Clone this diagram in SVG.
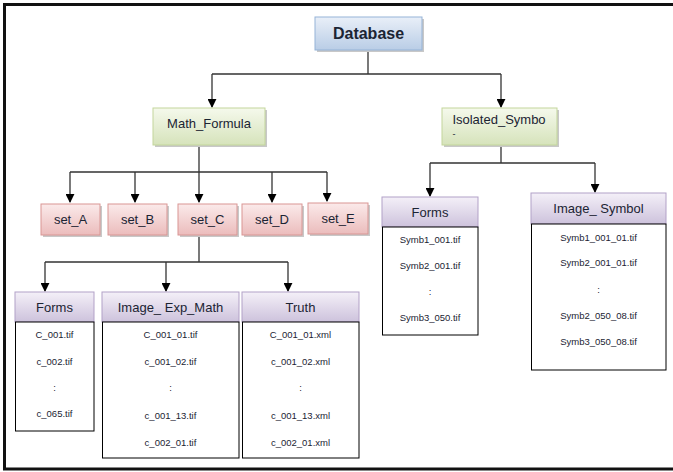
<svg xmlns="http://www.w3.org/2000/svg" width="673" height="472" viewBox="0 0 673 472">
<defs>
<linearGradient id="gBlue" x1="0" y1="0" x2="0" y2="1"><stop offset="0" stop-color="#e9eff8"/><stop offset="1" stop-color="#b9cde6"/></linearGradient>
<linearGradient id="gGreen" x1="0" y1="0" x2="0" y2="1"><stop offset="0" stop-color="#f5f9ec"/><stop offset="1" stop-color="#d6e3bb"/></linearGradient>
<linearGradient id="gPink" x1="0" y1="0" x2="0" y2="1"><stop offset="0" stop-color="#fbeaea"/><stop offset="1" stop-color="#ebbcbc"/></linearGradient>
<linearGradient id="gPurple" x1="0" y1="0" x2="0" y2="1"><stop offset="0" stop-color="#f4f0f8"/><stop offset="1" stop-color="#cdc2dc"/></linearGradient>
<marker id="arr" viewBox="0 0 10 10" refX="9" refY="5" markerWidth="9" markerHeight="9" markerUnits="userSpaceOnUse" orient="auto"><path d="M0,0 L10,5 L0,10 z" fill="#000"/></marker>
</defs>
<style>
.sh{fill:#c8c8c8;}
.blue{fill:url(#gBlue);stroke:#95b3d7;stroke-width:1;}
.green{fill:url(#gGreen);stroke:#c3d69b;stroke-width:1;}
.pink{fill:url(#gPink);stroke:#d99694;stroke-width:1;}
.purple{fill:url(#gPurple);stroke:#b2a1c7;stroke-width:1;}
.list{fill:#fff;stroke:#000;stroke-width:1;}
.t{font-family:"Liberation Sans",Arial,sans-serif;font-size:13px;fill:#1b2433;text-anchor:middle;}
.s{font-family:"Liberation Sans",Arial,sans-serif;font-size:9.5px;fill:#1b2433;text-anchor:middle;}
.conn{fill:none;stroke:#333;stroke-width:1.3;}
</style>
<rect x="0" y="0" width="673" height="472" fill="#fff"/>
<g id="frame" fill="none" stroke="#111" stroke-width="3">
<path d="M673,4.5 L4.5,4.5 L4.5,469 L673,469"/>
</g>

<g id="connectors">
<path class="conn" d="M368,50 V74 M212,74 H501"/>
<path class="conn" d="M212,74 V107" marker-end="url(#arr)"/>
<path class="conn" d="M501,74 V107" marker-end="url(#arr)"/>
<path class="conn" d="M199,146 V172 M70,172 H327"/>
<path class="conn" d="M70,172 V202" marker-end="url(#arr)"/>
<path class="conn" d="M135,172 V202" marker-end="url(#arr)"/>
<path class="conn" d="M199,172 V202" marker-end="url(#arr)"/>
<path class="conn" d="M272,172 V202" marker-end="url(#arr)"/>
<path class="conn" d="M327,172 V201" marker-end="url(#arr)"/>
<path class="conn" d="M199,236 V262 M45,262 H288"/>
<path class="conn" d="M45,262 V291" marker-end="url(#arr)"/>
<path class="conn" d="M166,262 V291" marker-end="url(#arr)"/>
<path class="conn" d="M288,262 V291" marker-end="url(#arr)"/>
<path class="conn" d="M501,146 V163 M430,163 H595"/>
<path class="conn" d="M430,163 V196" marker-end="url(#arr)"/>
<path class="conn" d="M595,163 V192" marker-end="url(#arr)"/>
</g>

<g id="database">
<rect class="sh" x="317" y="19" width="107" height="33"/>
<rect class="blue" x="315" y="17" width="107" height="33"/>
<text class="t" x="368.5" y="39" style="font-weight:bold;font-size:16px;">Database</text>
</g>
<g id="math_formula">
<rect class="sh" x="155" y="110" width="112" height="37"/>
<rect class="green" x="153" y="108" width="112" height="37"/>
<text class="t" x="209" y="128">Math_Formula</text>
</g>
<g id="isolated_symbo">
<rect class="sh" x="444" y="110" width="115" height="37"/>
<rect class="green" x="442" y="108" width="115" height="37"/>
<text class="t" x="499" y="124">Isolated_Symbo</text>
<text class="t" x="454" y="137" style="font-size:9px;">-</text>
</g>

<g id="set_A"><rect class="sh" x="43" y="206" width="59" height="31"/><rect class="pink" x="41" y="204" width="59" height="31"/><text class="t" x="70.5" y="224">set_A</text></g>
<g id="set_B"><rect class="sh" x="110" y="206" width="59" height="31"/><rect class="pink" x="108" y="204" width="59" height="31"/><text class="t" x="137.5" y="224">set_B</text></g>
<g id="set_C"><rect class="sh" x="180" y="206" width="59" height="31"/><rect class="pink" x="178" y="204" width="59" height="31"/><text class="t" x="207.5" y="224">set_C</text></g>
<g id="set_D"><rect class="sh" x="244" y="206" width="60" height="31"/><rect class="pink" x="242" y="204" width="60" height="31"/><text class="t" x="272" y="224">set_D</text></g>
<g id="set_E"><rect class="sh" x="310" y="205" width="60" height="31"/><rect class="pink" x="308" y="203" width="60" height="31"/><text class="t" x="338" y="223">set_E</text></g>

<g id="forms_math">
<rect class="purple" x="15" y="292" width="79" height="30"/>
<text class="t" x="54.5" y="312">Forms</text>
<rect class="list" x="15.5" y="322" width="78.5" height="109"/>
<text class="s" x="54.5" y="338">C_001.tif</text>
<text class="s" x="54.5" y="365">c_002.tif</text>
<text class="s" x="54.5" y="391">:</text>
<text class="s" x="54.5" y="417">c_065.tif</text>
</g>
<g id="image_exp_math">
<rect class="purple" x="102" y="292" width="137" height="30"/>
<text class="t" x="170.5" y="312">Image_ Exp_Math</text>
<rect class="list" x="102.5" y="322" width="136.5" height="136"/>
<text class="s" x="170.5" y="338">C_001_01.tif</text>
<text class="s" x="170.5" y="365">c_001_02.tif</text>
<text class="s" x="170.5" y="391">:</text>
<text class="s" x="170.5" y="419">c_001_13.tif</text>
<text class="s" x="170.5" y="446">c_002_01.tif</text>
</g>
<g id="truth">
<rect class="purple" x="242" y="292" width="117" height="30"/>
<text class="t" x="300.5" y="312">Truth</text>
<rect class="list" x="242.5" y="322" width="116.5" height="136"/>
<text class="s" x="300.5" y="338">C_001_01.xml</text>
<text class="s" x="300.5" y="365">c_001_02.xml</text>
<text class="s" x="300.5" y="391">:</text>
<text class="s" x="300.5" y="419">c_001_13.xml</text>
<text class="s" x="300.5" y="446">c_002_01.xml</text>
</g>
<g id="forms_symbol">
<rect class="purple" x="382" y="197" width="96" height="30"/>
<text class="t" x="430" y="217">Forms</text>
<rect class="list" x="382.5" y="227" width="95.5" height="108"/>
<text class="s" x="430" y="243">Symb1_001.tif</text>
<text class="s" x="430" y="269">Symb2_001.tif</text>
<text class="s" x="430" y="295">:</text>
<text class="s" x="430" y="321">Symb3_050.tif</text>
</g>
<g id="image_symbol">
<rect class="purple" x="531" y="193" width="135" height="31"/>
<text class="t" x="598.5" y="213">Image_ Symbol</text>
<rect class="list" x="531.5" y="224" width="134.5" height="146"/>
<text class="s" x="598.5" y="241">Symb1_001_01.tif</text>
<text class="s" x="598.5" y="266">Symb2_001_01.tif</text>
<text class="s" x="598.5" y="293">:</text>
<text class="s" x="598.5" y="319">Symb2_050_08.tif</text>
<text class="s" x="598.5" y="345">Symb3_050_08.tif</text>
</g>
</svg>
